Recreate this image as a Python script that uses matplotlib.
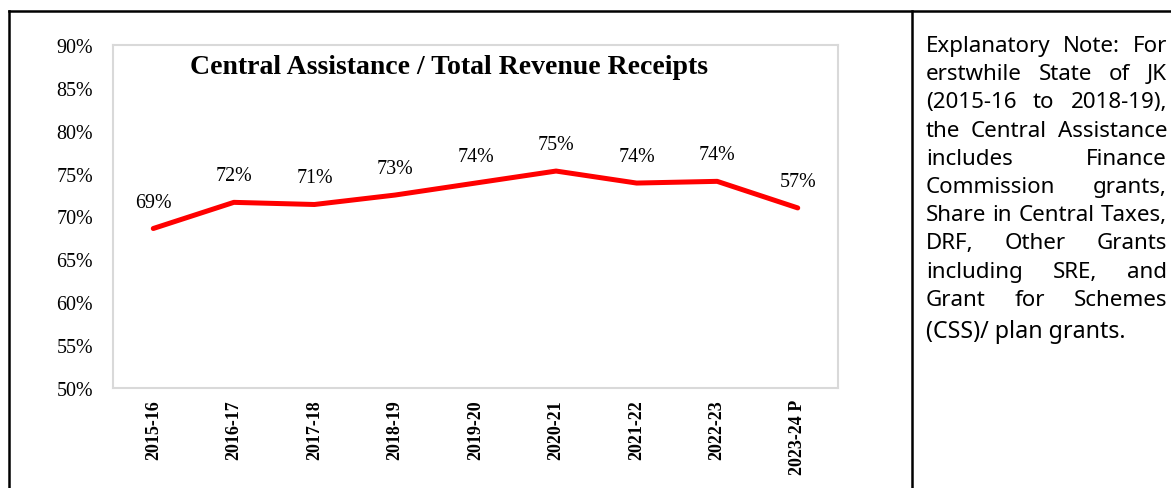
import matplotlib
matplotlib.use("Agg")
import matplotlib.pyplot as plt
from matplotlib.lines import Line2D

# ---- data ----
years = ["2015-16", "2016-17", "2017-18", "2018-19", "2019-20",
         "2020-21", "2021-22", "2022-23", "2023-24 P"]
ratio = [68.6, 71.65, 71.4, 72.5, 73.9, 75.3, 73.9, 74.1, 71.0]
point_labels = ["69%", "72%", "71%", "73%", "74%", "75%", "74%", "74%", "57%"]
yticks = [50, 55, 60, 65, 70, 75, 80, 85, 90]
title = "Central Assistance / Total Revenue Receipts"
note_lines = ["Explanatory Note: For", "erstwhile State of JK",
              "(2015-16 to 2018-19),", "the Central Assistance",
              "includes Finance", "Commission grants,",
              "Share in Central Taxes,", "DRF, Other Grants",
              "including SRE, and", "Grant for Schemes"]
note_last = "(CSS)/ plan grants."

W, H = 1171, 489
fig = plt.figure(figsize=(W / 100, H / 100), dpi=100)
serif = "Liberation Serif"

ax = fig.add_axes([113 / W, 1 - 389 / H, (838 - 113) / W, (389 - 46) / H])
x = list(range(len(years)))
ax.plot(x, ratio, color="#FF0000", lw=3.6, solid_capstyle="round",
        solid_joinstyle="round")
ax.set_xlim(-0.5, len(years) - 0.5)
ax.set_ylim(50, 90)
ax.set_yticks(yticks)
ax.set_yticklabels([f"{v}%" for v in yticks], fontfamily=serif, fontsize=14.4)
ax.set_xticks(x)
ax.set_xticklabels(years, rotation=90, fontfamily=serif, fontweight="bold",
                   fontsize=13)
ax.tick_params(axis="y", length=0, pad=14.4)
ax.tick_params(axis="x", length=0, pad=8)
for s in ax.spines.values():
    s.set_color("#D9D9D9")
    s.set_linewidth(1.5)

for xi, v, lab in zip(x, ratio, point_labels):
    ax.annotate(lab, (xi, v), xytext=(0, 22), textcoords="offset pixels",
                ha="center", va="baseline", fontfamily=serif, fontsize=14.4)

fig.text(449 / W, 1 - 74 / H, title, ha="center", va="baseline",
         fontfamily=serif, fontweight="bold", fontsize=20)

# table borders
for (x0, y0, x1, y1) in [(9, 12, W, 12), (9, 12, 9, H), (912, 12, 912, H)]:
    fig.add_artist(Line2D([x0 / W, x1 / W], [1 - y0 / H, 1 - y1 / H],
                          color="black", lw=1.8, transform=fig.transFigure))

# justified note text
fig.canvas.draw()
renderer = fig.canvas.get_renderer()
left_px, right_px = 926, 1167
base0, step = 52, 28.2
nfont = "Noto Sans"

# fit font size so the tightest line fits the column with normal spacing
probe = fig.text(0, 0, "Share in Central Taxes,", fontfamily=nfont,
                 fontsize=16)
pw = probe.get_window_extent(renderer).width
probe.remove()
nsize = min(16.8, 16 * (right_px - left_px - 2) / pw)

for i, line in enumerate(note_lines):
    words = line.split()
    yb = 1 - (base0 + i * step) / H
    texts = [fig.text(0, yb, w, fontfamily=nfont, fontsize=nsize,
                      va="baseline", ha="left") for w in words]
    widths = [t.get_window_extent(renderer).width for t in texts]
    gap = (right_px - left_px - sum(widths)) / max(len(words) - 1, 1)
    cx = left_px
    for t, wd in zip(texts, widths):
        t.set_x(cx / W)
        cx += wd + gap
fig.text(left_px / W, 1 - 338 / H, note_last, fontfamily=nfont,
         fontsize=nsize * 1.04, va="baseline", ha="left")

fig.savefig("out.png", dpi=100)
